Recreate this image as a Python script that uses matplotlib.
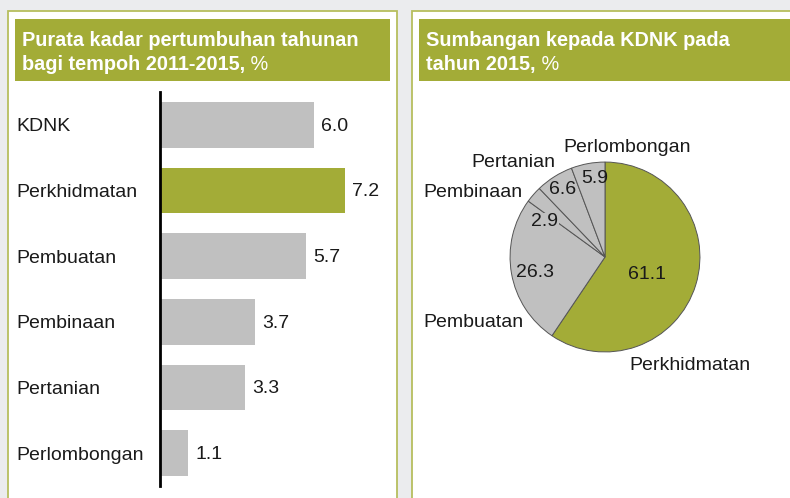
import matplotlib
matplotlib.use("Agg")
import matplotlib.pyplot as plt
from matplotlib.patches import Rectangle

plt.rcParams['font.family'] = ['Liberation Sans', 'DejaVu Sans']

# data
bar_labels = ["KDNK", "Perkhidmatan", "Pembuatan", "Pembinaan", "Pertanian", "Perlombongan"]
bar_values = [6.0, 7.2, 5.7, 3.7, 3.3, 1.1]
bar_highlight = "Perkhidmatan"

pie_labels = ["Perkhidmatan", "Pembuatan", "Pembinaan", "Pertanian", "Perlombongan"]
pie_values = [61.1, 26.3, 2.9, 6.6, 5.9]

title_left = ["Purata kadar pertumbuhan tahunan", "bagi tempoh 2011-2015,"]
title_right = ["Sumbangan kepada KDNK pada", "tahun 2015,"]

# style
GREEN = "#A3AC37"
GRAY = "#C0C0C0"
BORDER = "#B6BE5E"
TXT = "#1a1a1a"
W, H = 790, 498

# label placement around the pie (pie radius = 1)
pie_name_pos = [(0.89, -1.14), (-1.39, -0.69), (-1.39, 0.68), (-0.96, 1.0), (0.23, 1.15)]
pie_value_pos = [(0.44, -0.18), (-0.74, -0.16), (-0.64, 0.37), (-0.45, 0.71), (-0.105, 0.83)]

fig = plt.figure(figsize=(W / 100, H / 100), dpi=100)
fig.patch.set_facecolor("#EBECEE")

# background axes in pixel coordinates
bg = fig.add_axes([0, 0, 1, 1])
bg.set_xlim(0, W)
bg.set_ylim(H, 0)
bg.axis("off")

# panels
bg.add_patch(Rectangle((8, 11), 389, 500, facecolor="white", edgecolor=BORDER, lw=1.3))
bg.add_patch(Rectangle((412, 11), 400, 500, facecolor="white", edgecolor=BORDER, lw=1.3))
# header bands
bg.add_patch(Rectangle((15, 19), 375, 62, facecolor=GREEN, edgecolor="none"))
bg.add_patch(Rectangle((419, 19), 380, 62, facecolor=GREEN, edgecolor="none"))


def header(x, lines):
    bg.text(x, 46, lines[0], color="white", fontsize=14.3, fontweight="bold", va="baseline")
    t = bg.text(x, 70, lines[1], color="white", fontsize=14.3, fontweight="bold", va="baseline")
    bg.annotate(" %", xy=(1, 0), xycoords=t, color="white", fontsize=14.3, va="bottom")


header(22, title_left)
header(426, title_right)

# bar chart
ax = fig.add_axes([160 / W, 1 - 486 / H, 230 / W, 394 / H])
ax.set_facecolor("none")
pos = list(range(len(bar_labels)))
colors = [GREEN if l == bar_highlight else GRAY for l in bar_labels]
ax.barh(pos, bar_values, height=0.7, color=colors)
ax.set_xlim(0, 230 / 25.7)
ax.set_ylim(len(pos) - 0.5, -0.5)
for i, v in zip(pos, bar_values):
    ax.annotate(f"{v:.1f}", xy=(v, i), xytext=(5, -1), textcoords="offset points",
                va="center", ha="left", fontsize=14, color=TXT)
ax.set_yticks(pos)
ax.set_yticklabels(bar_labels, ha="left", fontsize=14, color=TXT)
ax.tick_params(axis="y", length=0, pad=144 * 0.72)
ax.set_xticks([])
for s in ["top", "right", "bottom"]:
    ax.spines[s].set_visible(False)
ax.spines["left"].set_linewidth(2)
ax.spines["left"].set_color("black")

# pie chart
pax = fig.add_axes([(605 - 150) / W, 1 - (257 + 150) / H, 300 / W, 300 / H])
pax.set_facecolor("none")
pie_colors = [GREEN] + [GRAY] * (len(pie_values) - 1)
pax.pie(pie_values, colors=pie_colors, startangle=90, counterclock=False,
        wedgeprops=dict(edgecolor="#555555", linewidth=0.7))
pax.set_xlim(-1.58, 1.58)
pax.set_ylim(-1.58, 1.58)
pax.set_aspect("equal")
pax.axis("off")
for name, v, (nx, ny), (vx, vy) in zip(pie_labels, pie_values, pie_name_pos, pie_value_pos):
    pax.text(nx, ny, name, ha="center", va="center", fontsize=14, color=TXT)
    box = dict(facecolor=GRAY, edgecolor="none", pad=0.5) if v < 3 else None
    pax.text(vx, vy, f"{v:.1f}", ha="center", va="center", fontsize=14, color=TXT, bbox=box)

fig.savefig("out.png", dpi=100)
